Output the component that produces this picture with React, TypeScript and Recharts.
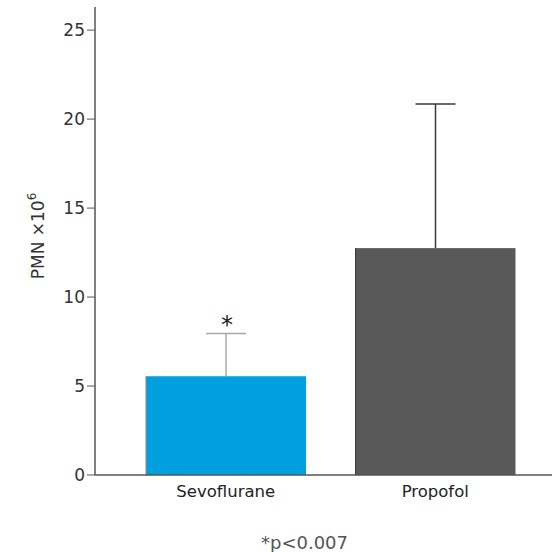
import React from 'react'
import { BarChart, Bar, XAxis, YAxis, Cell } from 'recharts'

const groups = ['Sevoflurane', 'Propofol']
const means = [5.55, 12.75]
const sdUpper = [2.4, 8.1]
const marks = ['*', '']
const barColors = ['#00a0df', '#595959']
const whiskerColors = ['#a8a8a8', '#3a3a3a']
const yTicks = [0, 5, 10, 15, 20, 25]

const data = groups.map((g, i) => ({ group: g, pmn: means[i], sd: sdUpper[i], mark: marks[i], idx: i }))

const FONT = '"DejaVu Sans", Verdana, sans-serif'

// bar + one-sided error whisker, scaled from the bar's own height
// eslint-disable-next-line @typescript-eslint/no-explicit-any
const BarWithError = (props: any) => {
    const { x, y, width, height, payload } = props
    const pxPerUnit = height / payload.pmn
    const cx = x + width / 2
    const top = y - payload.sd * pxPerUnit
    const col = whiskerColors[payload.idx]
    return (
        <g>
            <rect x={x} y={y} width={width} height={height} fill={barColors[payload.idx]} />
            <line x1={x} y1={y} x2={x} y2={y + height} stroke={payload.idx === 0 ? '#8a8a8a' : '#3a3a3a'} strokeWidth={1} />
            <line x1={cx} y1={y} x2={cx} y2={top} stroke={col} strokeWidth={1.5} />
            <line x1={cx - 20} y1={top} x2={cx + 20} y2={top} stroke={col} strokeWidth={1.5} />
            {payload.mark && (
                <text x={cx + 1} y={top - 1} textAnchor="middle" fontSize={24} fontFamily={FONT} fill="#222">
                    {payload.mark}
                </text>
            )}
        </g>
    )
}

const YLabel = () => (
    <text
        transform="translate(44,236) rotate(-90)"
        textAnchor="middle"
        fontSize={17}
        fontFamily={FONT}
        fill="#333"
    >
        PMN ×10
        <tspan dy={-8} fontSize={12}>6</tspan>
    </text>
)

export default function App() {
    return (
        <div style={{ position: 'absolute', left: 0, top: 0, width: 552, height: 552, background: '#fff' }}>
            <BarChart
                width={552}
                height={552}
                data={data}
                margin={{ top: 7, right: 0, bottom: 47, left: 25 }}
            >
                <XAxis
                    dataKey="group"
                    padding={{ left: 26, right: 12 }}
                    axisLine={{ stroke: '#555', strokeWidth: 1.5 }}
                    tickLine={false}
                    tick={{ fontSize: 16.5, fill: '#222', fontFamily: FONT }}
                    tickMargin={4}
                />
                <YAxis
                    domain={[0, 26.3]}
                    ticks={yTicks}
                    width={70}
                    allowDataOverflow
                    axisLine={{ stroke: '#555', strokeWidth: 1.5 }}
                    tickLine={{ stroke: '#555' }}
                    tickSize={8}
                    tick={{ fontSize: 17, fill: '#333', fontFamily: FONT }}
                    label={{ content: () => <YLabel /> }}
                />
                <Bar dataKey="pmn" barSize={160} shape={<BarWithError />} isAnimationActive={false}>
                    {data.map((d, i) => (
                        <Cell key={d.group} fill={barColors[i]} />
                    ))}
                </Bar>
            </BarChart>
            <div
                style={{
                    position: 'absolute',
                    left: 0,
                    width: 609,
                    top: 532,
                    textAlign: 'center',
                    fontFamily: FONT,
                    fontSize: 18,
                    color: '#555',
                }}
            >
                *p&lt;0.007
            </div>
        </div>
    )
}
